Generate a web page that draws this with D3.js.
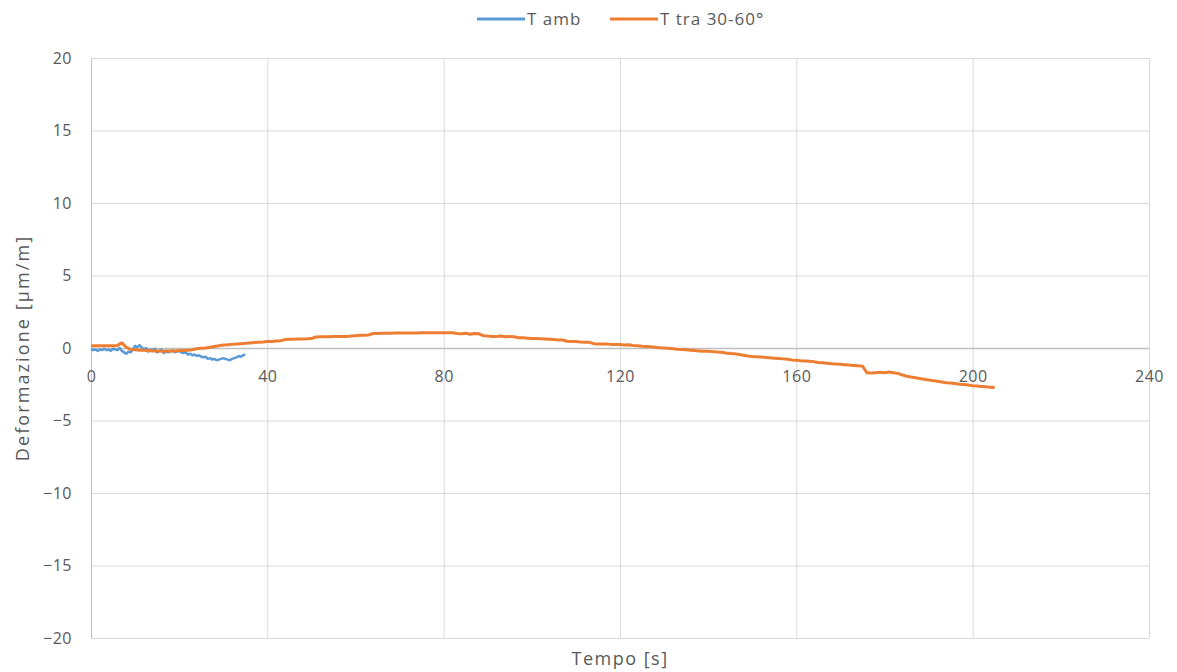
<!DOCTYPE html>
<html>
<head>
<meta charset="utf-8">
<script src="https://cdn.jsdelivr.net/npm/d3@7/dist/d3.min.js"></script>
<style>
  html, body { margin: 0; padding: 0; background: #ffffff; }
  svg { display: block; font-family: "Open Sans", "Noto Sans", sans-serif; }
</style>
</head>
<body>
<svg id="chart" width="1177" height="672"></svg>
<script>
// Axis ticks
const xTicks = [0, 40, 80, 120, 160, 200, 240];
const yTicks = [-20, -15, -10, -5, 0, 5, 10, 15, 20];

// Series names
const seriesNames = ["T amb", "T tra 30-60°"];

// T amb: sampled every 0.5 s from 0 to 35 s
const ambTime = d3.range(0, 35.01, 0.5);
const ambValues = [
  -0.05, -0.15, -0.10, -0.20, -0.10, -0.15, -0.05, -0.15, -0.10, -0.20,
  -0.05, -0.10, -0.15, 0.00, -0.20, -0.30, -0.40, -0.25, -0.30, -0.10,
  0.15, 0.05, 0.20, 0.05, -0.10, 0.00, -0.25, -0.10, -0.15, -0.05,
  -0.30, -0.20, -0.10, -0.35, -0.20, -0.30, -0.25, -0.15, -0.30, -0.25,
  -0.20, -0.30, -0.35, -0.30, -0.45, -0.40, -0.50, -0.45, -0.55, -0.50,
  -0.60, -0.65, -0.60, -0.75, -0.70, -0.80, -0.75, -0.85, -0.80, -0.75,
  -0.70, -0.75, -0.80, -0.85, -0.75, -0.70, -0.65, -0.55, -0.60, -0.50,
  -0.45
];

// T tra 30-60°: sampled every 1 s from 0 to 205 s
const traTime = d3.range(0, 206, 1);
const traValues = [
  0.15, 0.15, 0.15, 0.16, 0.15, 0.16, 0.18, 0.35, 0.05, -0.10,            // 0-9
  -0.12, -0.15, -0.15, -0.18, -0.20, -0.20, -0.22, -0.20, -0.20, -0.20,   // 10-19
  -0.18, -0.18, -0.15, -0.12, -0.05, -0.02, 0.00, 0.05, 0.10, 0.15,       // 20-29
  0.20, 0.22, 0.25, 0.28, 0.30, 0.32, 0.35, 0.38, 0.40, 0.42,             // 30-39
  0.45, 0.45, 0.48, 0.50, 0.58, 0.60, 0.60, 0.62, 0.62, 0.63,             // 40-49
  0.65, 0.76, 0.77, 0.78, 0.78, 0.80, 0.80, 0.80, 0.80, 0.82,             // 50-59
  0.85, 0.88, 0.88, 0.90, 1.00, 1.00, 1.02, 1.02, 1.02, 1.03,             // 60-69
  1.03, 1.03, 1.04, 1.04, 1.04, 1.05, 1.05, 1.05, 1.05, 1.05,             // 70-79
  1.05, 1.05, 1.05, 1.00, 0.98, 1.02, 0.95, 1.00, 0.98, 0.85,             // 80-89
  0.82, 0.80, 0.80, 0.82, 0.78, 0.80, 0.78, 0.70, 0.70, 0.68,             // 90-99
  0.65, 0.65, 0.63, 0.62, 0.60, 0.58, 0.55, 0.55, 0.47, 0.45,             // 100-109
  0.45, 0.42, 0.40, 0.40, 0.30, 0.28, 0.28, 0.27, 0.25, 0.25,             // 110-119
  0.24, 0.20, 0.22, 0.18, 0.15, 0.12, 0.10, 0.08, 0.05, 0.02,             // 120-129
  0.00, -0.02, -0.05, -0.08, -0.10, -0.12, -0.15, -0.18, -0.20, -0.22,    // 130-139
  -0.22, -0.25, -0.28, -0.30, -0.35, -0.38, -0.40, -0.45, -0.50, -0.55,   // 140-149
  -0.58, -0.60, -0.62, -0.65, -0.68, -0.70, -0.72, -0.75, -0.78, -0.82,   // 150-159
  -0.85, -0.88, -0.90, -0.92, -0.95, -1.00, -1.02, -1.05, -1.08, -1.10,   // 160-169
  -1.12, -1.15, -1.18, -1.20, -1.22, -1.25, -1.70, -1.72, -1.70, -1.68,   // 170-179
  -1.70, -1.65, -1.70, -1.75, -1.85, -1.95, -2.00, -2.05, -2.10, -2.15,   // 180-189
  -2.20, -2.25, -2.30, -2.35, -2.40, -2.42, -2.45, -2.50, -2.52, -2.55,   // 190-199
  -2.60, -2.62, -2.65, -2.68, -2.70, -2.72                                // 200-205
];

const seriesColors = ["#5B9BD5", "#ED7D31"];

const svg = d3.select("#chart");
const plot = { left: 91, right: 1149, top: 58, bottom: 638 };

const x = d3.scaleLinear().domain([0, 240]).range([plot.left, plot.right]);
const y = d3.scaleLinear().domain([-20, 20]).range([plot.bottom, plot.top]);

const textColor = "#595959";
const gridColor = "#D9D9D9";

// Horizontal gridlines
svg.append("g")
  .attr("class", "y-grid")
  .attr("transform", `translate(${plot.left},0)`)
  .call(d3.axisLeft(y).tickValues(yTicks).tickSize(-(plot.right - plot.left)).tickFormat(""))
  .call(g => g.select(".domain").remove())
  .call(g => g.selectAll("line").attr("stroke", gridColor).attr("stroke-width", 1));

// Vertical gridlines
svg.append("g")
  .attr("class", "x-grid")
  .attr("transform", `translate(0,${plot.bottom})`)
  .call(d3.axisBottom(x).tickValues(xTicks).tickSize(-(plot.bottom - plot.top)).tickFormat(""))
  .call(g => g.select(".domain").remove())
  .call(g => g.selectAll("line").attr("stroke", gridColor).attr("stroke-width", 1));

// Y axis labels
svg.append("g")
  .attr("class", "y-axis")
  .attr("transform", `translate(${plot.left},0)`)
  .call(d3.axisLeft(y).tickValues(yTicks).tickSize(0).tickPadding(19))
  .call(g => g.select(".domain").attr("stroke", "#BFBFBF"))
  .call(g => g.selectAll("text")
    .attr("fill", textColor)
    .style("font-size", "16px")
    .style("letter-spacing", "0.5px")
    .style("font-family", "\"Open Sans\", \"Noto Sans\", sans-serif"));

// X axis along zero line
svg.append("g")
  .attr("class", "x-axis")
  .attr("transform", `translate(0,${y(0)})`)
  .call(d3.axisBottom(x).tickValues(xTicks).tickSize(0).tickPadding(23))
  .call(g => g.select(".domain").attr("stroke", "#BFBFBF").attr("stroke-width", 1.3))
  .call(g => g.selectAll("text")
    .attr("fill", textColor)
    .style("font-size", "16px")
    .style("letter-spacing", "0.5px")
    .style("font-family", "\"Open Sans\", \"Noto Sans\", sans-serif"));

// Series lines
const line = d3.line()
  .x(d => x(d[0]))
  .y(d => y(d[1]));

const ambData = ambTime.map((t, i) => [t, ambValues[i]]);
const traData = traTime.map((t, i) => [t, traValues[i]]);

svg.append("path")
  .datum(ambData)
  .attr("fill", "none")
  .attr("stroke", seriesColors[0])
  .attr("stroke-width", 2.5)
  .attr("stroke-linejoin", "round")
  .attr("d", line);

svg.append("path")
  .datum(traData)
  .attr("fill", "none")
  .attr("stroke", seriesColors[1])
  .attr("stroke-width", 3)
  .attr("stroke-linejoin", "round")
  .attr("d", line);

// Axis titles
svg.append("text")
  .attr("x", (plot.left + plot.right) / 2)
  .attr("y", 665)
  .attr("text-anchor", "middle")
  .attr("fill", textColor)
  .style("font-size", "18px")
  .style("letter-spacing", "1.5px")
  .text("Tempo [s]");

svg.append("text")
  .attr("transform", `translate(29,${(plot.top + plot.bottom) / 2}) rotate(-90)`)
  .attr("text-anchor", "middle")
  .attr("fill", textColor)
  .style("font-size", "18px")
  .style("letter-spacing", "2.1px")
  .text("Deformazione [µm/m]");

// Legend
const legendItems = [
  { name: seriesNames[0], color: seriesColors[0], x0: 477 },
  { name: seriesNames[1], color: seriesColors[1], x0: 610 }
];
const legend = svg.append("g").attr("class", "legend");
legendItems.forEach(item => {
  legend.append("line")
    .attr("x1", item.x0).attr("x2", item.x0 + 48)
    .attr("y1", 19).attr("y2", 19)
    .attr("stroke", item.color)
    .attr("stroke-width", 3);
  legend.append("text")
    .attr("x", item.x0 + 50)
    .attr("y", 25)
    .attr("fill", textColor)
    .style("font-size", "17px")
    .style("letter-spacing", "1px")
    .text(item.name);
});
</script>
</body>
</html>
